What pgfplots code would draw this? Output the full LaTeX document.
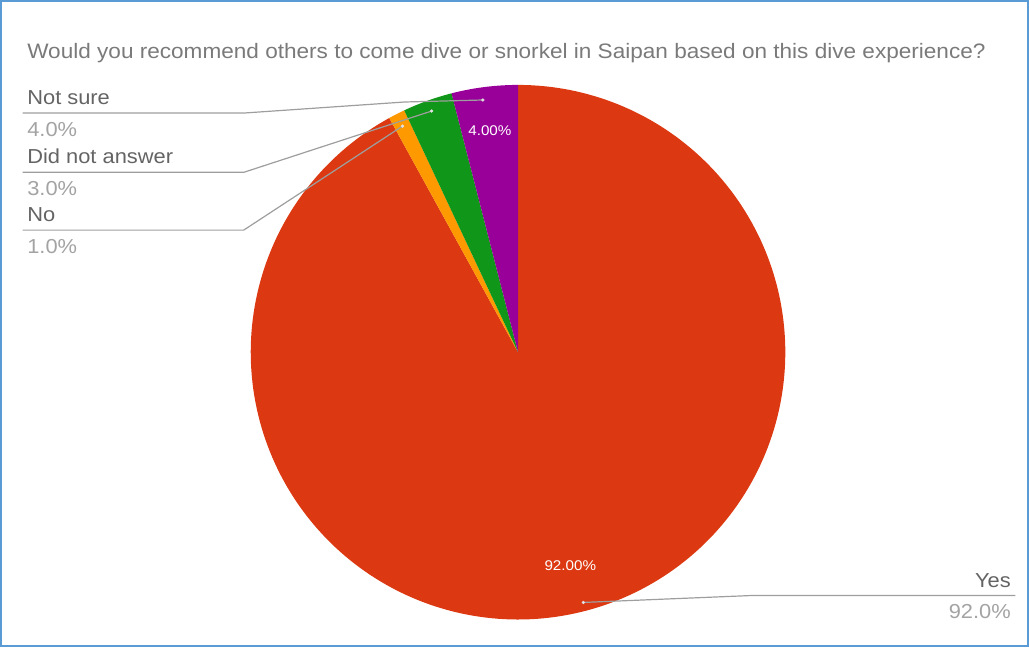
\documentclass[border=0pt]{standalone}
\usepackage{pgfplots}
\pgfplotsset{compat=1.18}
\usepackage{pgfplotstable}
\usepackage{fontspec}
\setmainfont[FakeStretch=1.08]{Liberation Sans}
\definecolor{cYes}{HTML}{DC3912}
\definecolor{cNo}{HTML}{FF9900}
\definecolor{cDNA}{HTML}{109618}
\definecolor{cNS}{HTML}{990099}
\definecolor{titleGray}{HTML}{7A7A7A}
\definecolor{labGray}{HTML}{646464}
\definecolor{pctGray}{HTML}{A3A3A3}
\definecolor{lineGray}{HTML}{9E9E9E}
\definecolor{borderBlue}{HTML}{5B9BD5}

\pgfplotstableread[col sep=comma]{
label,value
Yes,92
No,1
Did not answer,3
Not sure,4
}\piedata
\pgfplotstablegetelem{0}{value}\of\piedata\edef\vA{\pgfplotsretval}
\pgfplotstablegetelem{1}{value}\of\piedata\edef\vB{\pgfplotsretval}
\pgfplotstablegetelem{2}{value}\of\piedata\edef\vC{\pgfplotsretval}
\pgfplotstablegetelem{3}{value}\of\piedata\edef\vD{\pgfplotsretval}
\pgfmathsetmacro\aA{3.6*\vA}
\pgfmathsetmacro\aB{\aA+3.6*\vB}
\pgfmathsetmacro\aC{\aB+3.6*\vC}
\pgfmathsetmacro\aD{\aC+3.6*\vD}

\begin{document}
\begin{tikzpicture}
\begin{axis}[scale only axis, width=771.75pt, height=486.75pt,
  xmin=0, xmax=1029, ymin=0, ymax=649, y dir=reverse,
  hide axis, clip=false]
% slices
\addplot[fill=cYes, draw=none, domain=0:\aA, samples=240, variable=\t]
  ({518+266*sin(\t)},{353-266*cos(\t)}) -- (518,353) -- cycle;
\addplot[fill=cNo, draw=none, domain=\aA:\aB, samples=10, variable=\t]
  ({518+266*sin(\t)},{353-266*cos(\t)}) -- (518,353) -- cycle;
\addplot[fill=cDNA, draw=none, domain=\aB:\aC, samples=20, variable=\t]
  ({518+266*sin(\t)},{353-266*cos(\t)}) -- (518,353) -- cycle;
\addplot[fill=cNS, draw=none, domain=\aC:\aD, samples=20, variable=\t]
  ({518+266*sin(\t)},{353-266*cos(\t)}) -- (518,353) -- cycle;
% leader lines
\addplot[lineGray, line width=0.9pt] coordinates {(25,115) (245,115) (405,104) (483,102)};
\addplot[lineGray, line width=0.9pt] coordinates {(25,174) (245,174) (432,113)};
\addplot[lineGray, line width=0.9pt] coordinates {(25,231.5) (245,231.5) (403,128)};
\addplot[lineGray, line width=0.9pt] coordinates {(583,602) (753,595) (1013,595)};
\addplot[only marks, mark=*, mark size=1pt, white!70!lineGray] coordinates {(483,102) (432,113) (403,128) (583,602)};
% texts
\node[anchor=base west, text=titleGray, font=\fontsize{15.6}{18}\selectfont] at (25,61)
  {Would you recommend others to come dive or snorkel in Saipan based on this dive experience?};
\node[anchor=base west, text=labGray, font=\fontsize{15.1}{18}\selectfont] at (25,106.7) {Not sure};
\node[anchor=base west, text=pctGray, font=\fontsize{15.1}{18}\selectfont] at (25,138) {4.0\%};
\node[anchor=base west, text=labGray, font=\fontsize{15.1}{18}\selectfont] at (25,165) {Did not answer};
\node[anchor=base west, text=pctGray, font=\fontsize{15.1}{18}\selectfont] at (25,196.7) {3.0\%};
\node[anchor=base west, text=labGray, font=\fontsize{15.1}{18}\selectfont] at (25,223) {No};
\node[anchor=base west, text=pctGray, font=\fontsize{15.1}{18}\selectfont] at (25,255) {1.0\%};
\node[anchor=base east, text=labGray, font=\fontsize{15.1}{18}\selectfont] at (1013,587) {Yes};
\node[anchor=base east, text=pctGray, font=\fontsize{15.1}{18}\selectfont] at (1013,618) {92.0\%};
\node[text=white, font=\fontsize{10.5}{12}\selectfont] at (490,133) {4.00\%};
\node[text=white, font=\fontsize{10.5}{12}\selectfont] at (570,565) {92.00\%};
% frame
\draw[borderBlue, line width=1.5pt] (3.5,3.5) rectangle (1025.5,645.5);
\end{axis}
\end{tikzpicture}
\end{document}
